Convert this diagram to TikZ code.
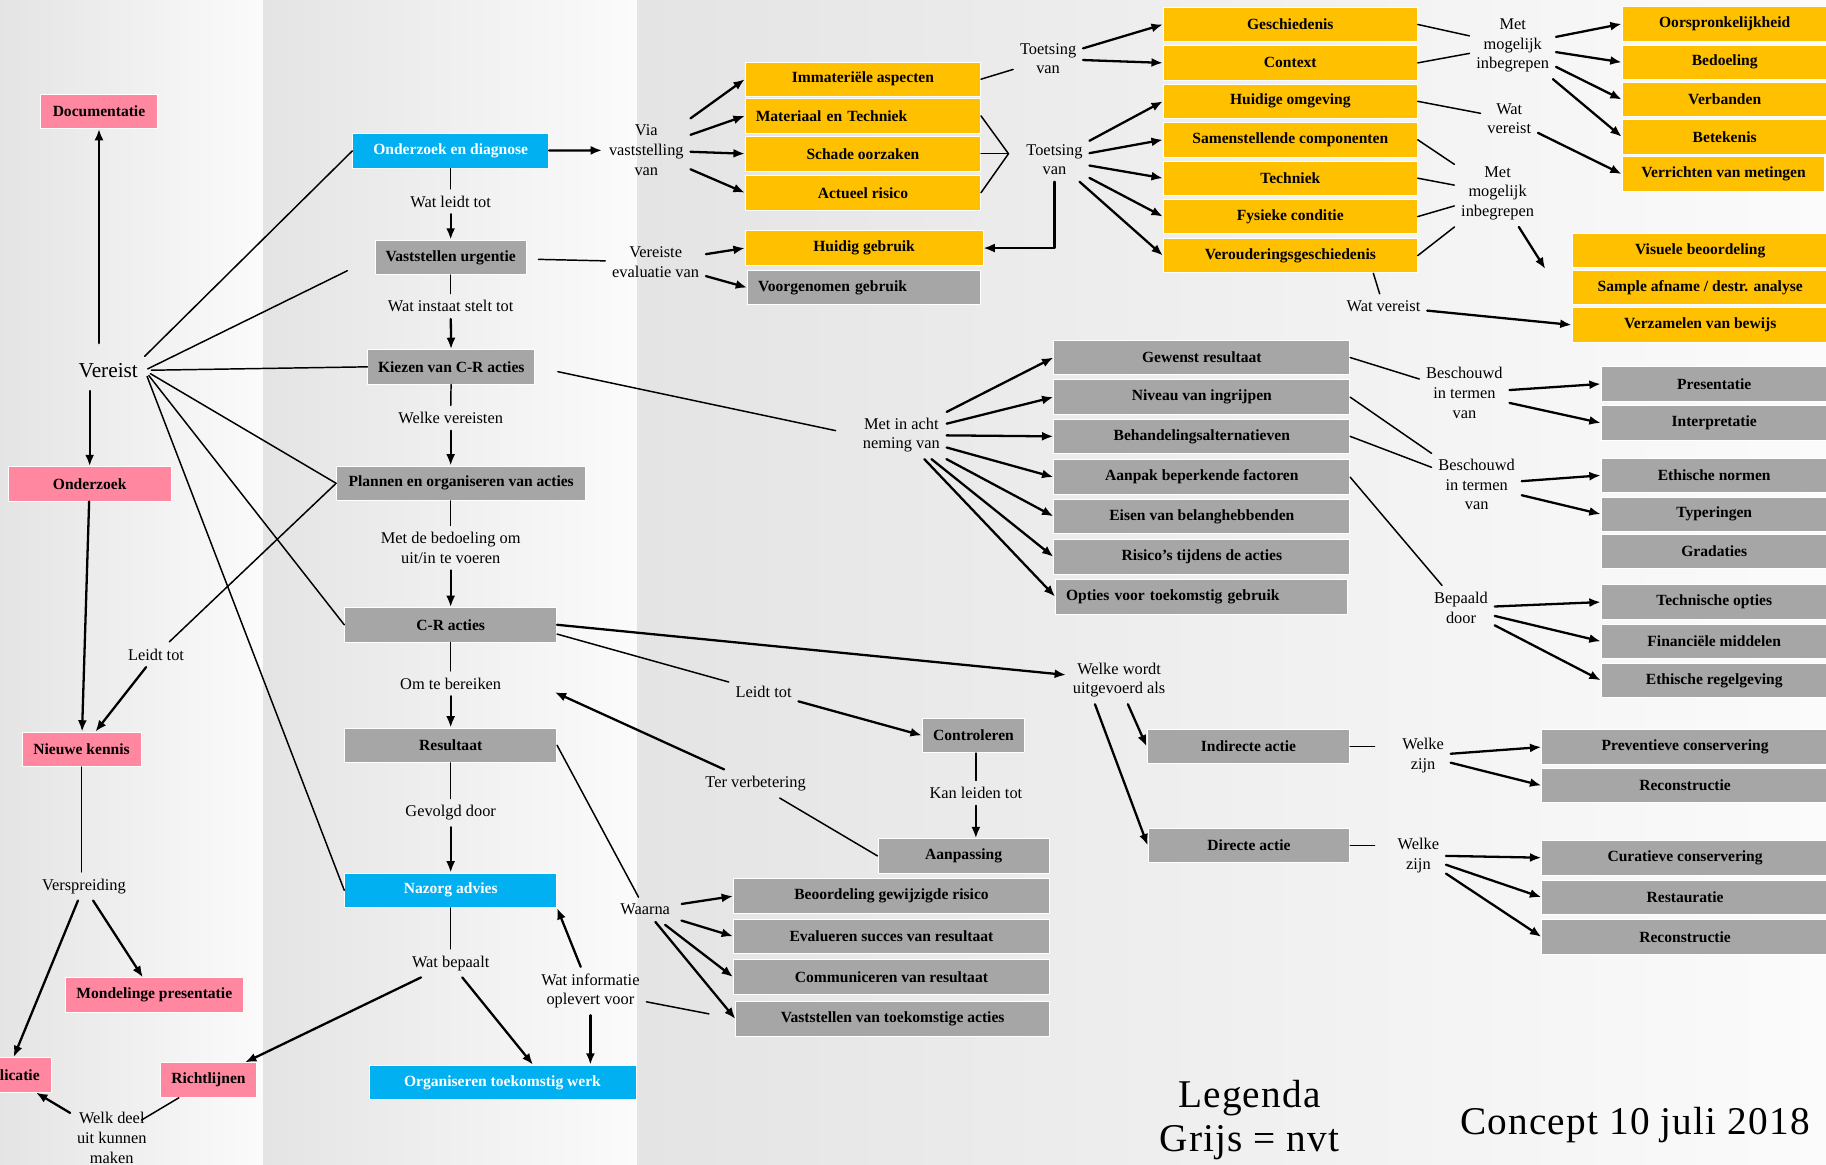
\documentclass[tikz,border=0pt]{standalone}
\usepackage{fontspec}
\setmainfont{Liberation Serif}
\newfontfamily\spaced[LetterSpace=3]{Liberation Serif}
\usetikzlibrary{arrows.meta}
\definecolor{roze}{HTML}{FF87A0}
\definecolor{blauw}{HTML}{00B0F0}
\definecolor{geel}{HTML}{FFC000}
\definecolor{grijs}{HTML}{A6A6A6}
\definecolor{bgdark}{HTML}{E4E4E4}
\definecolor{bglight}{HTML}{FBFBFB}
\begin{document}
\begin{tikzpicture}[x=0.025cm,y=-0.025cm,>={Latex[length=7pt,width=5.5pt]},line join=round,line cap=round,
	box/.style={minimum height=0.74cm,inner sep=1pt,draw=white,line width=0.5pt,font=\fontsize{9.5}{11}\selectfont\bfseries},
	pinkbox/.style={box,fill=roze},
	bluebox/.style={box,fill=blauw,text=white},
	yelbox/.style={box,fill=geel},
	greybox/.style={box,fill=grijs},
	leftbox/.style={align=left,inner xsep=0.225cm,text width=#1},
	lbl/.style={align=center,inner sep=4pt,font=\fontsize{10}{12}\selectfont},
	ln/.style={line width=0.9pt},
	arr/.style={->,line width=1.4pt}]
		\useasboundingbox (0,0) rectangle (1568,1000);
		\clip (0,0) rectangle (1568,1000);
		\shade[left color=bgdark,right color=bglight] (0,0) rectangle (226,1000);
		\shade[left color=bgdark,right color=bglight] (226,0) rectangle (547,1000);
		\shade[left color=bgdark,right color=bglight] (547,0) rectangle (1568,1000);
		% left column
		\node[pinkbox,minimum width=2.5cm] (doc) at (85,95.5) {Documentatie};
		\node[pinkbox,minimum width=3.5cm] (onderzoek) at (77,415.5) {Onderzoek};
		\node[pinkbox,minimum width=2.55cm] (kennis) at (70,643.5) {Nieuwe kennis};
		\node[pinkbox,minimum width=3.83cm] (mondeling) at (132.5,854.5) {Mondelinge presentatie};
		\node[pinkbox,minimum width=1.93cm] (publicatie) at (5.5,923) {Publicatie};
		\node[pinkbox,minimum width=2.05cm] (richtlijn) at (179,927.5) {Richtlijnen};
		\node[lbl,font=\fontsize{13}{15}\selectfont] (vereist) at (93,318) {Vereist};
		\node[lbl] (leidt) at (134,562) {Leidt tot};
		\node[lbl] (verspreiding) at (72,761) {Verspreiding};
		\node[lbl] (welkdeel) at (96,977) {Welk deel\\uit kunnen\\maken};
		% middle column
		\node[bluebox,minimum width=4.2cm] (diagnose) at (387,129.5) {Onderzoek en diagnose};
		\node[greybox,minimum width=3.25cm] (urgentie) at (387,221) {Vaststellen urgentie};
		\node[greybox,minimum width=3.58cm] (kiezen) at (387.5,315) {Kiezen van C-R acties};
		\node[greybox,minimum width=5.35cm] (plannen) at (396,415) {Plannen en organiseren van acties};
		\node[greybox,minimum width=4.55cm] (acties) at (387,536.5) {C-R acties};
		\node[greybox,minimum width=4.55cm] (resultaat) at (387,640) {Resultaat};
		\node[bluebox,minimum width=4.55cm] (nazorg) at (387,764.5) {Nazorg advies};
		\node[bluebox,minimum width=5.73cm] (toekomst) at (431.5,929.5) {Organiseren toekomstig werk};
		\node[lbl] (m1) at (387,173) {Wat leidt tot};
		\node[lbl] (m2) at (387,263) {Wat instaat stelt tot};
		\node[lbl] (m3) at (387,359) {Welke vereisten};
		\node[lbl] (m4) at (387,470.5) {Met de bedoeling om\\uit/in te voeren};
		\node[lbl] (m5) at (387,587) {Om te bereiken};
		\node[lbl] (m6) at (387,698) {Gevolgd door};
		\node[lbl] (m7) at (387,827) {Wat bepaalt};
		\node[lbl] (info) at (507,851) {Wat informatie\\oplevert voor};
		% top block
		\node[lbl] (via) at (555,129) {Via\\vaststelling\\van};
		\node[lbl] (evaluatie) at (563,225) {Vereiste\\evaluatie van};
		\node[yelbox,minimum width=5.05cm] (immaterieel) at (741,68) {Immateriële aspecten};
		\node[yelbox,leftbox=4.6cm] (materiaal) at (741,99.5) {Materiaal en Techniek};
		\node[yelbox,minimum width=5.05cm] (schade) at (741,132) {Schade oorzaken};
		\node[yelbox,minimum width=5.05cm] (risico) at (741,165.5) {Actueel risico};
		\node[yelbox,minimum width=5.1cm] (huidig) at (742,213) {Huidig gebruik};
		\node[greybox,leftbox=4.55cm] (voorgenomen) at (742,247) {Voorgenomen gebruik};
		\node[lbl] (toets1) at (900,50.5) {Toetsing\\van};
		\node[lbl] (toets2) at (905.5,137) {Toetsing\\van};
		\coordinate (punt) at (866,132);
		\node[yelbox,minimum width=5.45cm] (geschiedenis) at (1108,21) {Geschiedenis};
		\node[yelbox,minimum width=5.45cm] (context) at (1108,54) {Context};
		\node[yelbox,minimum width=5.45cm] (omgeving) at (1108,87) {Huidige omgeving};
		\node[yelbox,minimum width=5.45cm] (componenten) at (1108,120) {Samenstellende componenten};
		\node[yelbox,minimum width=5.45cm] (techniek) at (1108,153) {Techniek};
		\node[yelbox,minimum width=5.45cm] (conditie) at (1108,186) {Fysieke conditie};
		\node[yelbox,minimum width=5.45cm] (veroudering) at (1108,219.5) {Verouderingsgeschiedenis};
		\node[lbl] (met1) at (1299,39) {Met\\mogelijk\\inbegrepen};
		\node[lbl] (wat1) at (1296,102) {Wat\\vereist};
		\node[lbl] (met2) at (1286,166) {Met\\mogelijk\\inbegrepen};
		\node[lbl] (wat2) at (1188,263) {Wat vereist};
		\coordinate (pijlpunt) at (1327,231);
		\node[yelbox,minimum width=4.4cm] (oorspronkelijk) at (1481,20.5) {Oorspronkelijkheid};
		\node[yelbox,minimum width=4.4cm] (bedoeling) at (1481,53.5) {Bedoeling};
		\node[yelbox,minimum width=4.4cm] (verbanden) at (1481,85.5) {Verbanden};
		\node[yelbox,minimum width=4.4cm] (betekenis) at (1481,117.5) {Betekenis};
		\node[yelbox,minimum width=4.35cm] (metingen) at (1480,149.5) {Verrichten van metingen};
		\node[yelbox,minimum width=5.5cm] (visueel) at (1460,215) {Visuele beoordeling};
		\node[yelbox,minimum width=5.5cm] (sample) at (1460,247) {Sample afname / destr. analyse};
		\node[yelbox,minimum width=5.5cm] (bewijs) at (1460,279) {Verzamelen van bewijs};
		% considerations
		\node[lbl] (acht) at (774,373.5) {Met in acht\\neming van};
		\node[greybox,minimum width=6.35cm] (gewenst) at (1032,307) {Gewenst resultaat};
		\node[greybox,minimum width=6.35cm] (niveau) at (1032,341) {Niveau van ingrijpen};
		\node[greybox,minimum width=6.35cm] (alternatief) at (1032,374.7) {Behandelingsalternatieven};
		\node[greybox,minimum width=6.35cm] (aanpak) at (1032,409.7) {Aanpak beperkende factoren};
		\node[greybox,minimum width=6.35cm] (eisen) at (1032,443.4) {Eisen van belanghebbenden};
		\node[greybox,minimum width=6.35cm] (risicos) at (1032,478.2) {Risico’s tijdens de acties};
		\node[greybox,leftbox=5.81cm] (opties) at (1031.7,512.4) {Opties voor toekomstig gebruik};
		\node[lbl] (besch1) at (1257.5,337.5) {Beschouwd\\in termen\\van};
		\node[lbl] (besch2) at (1268,416) {Beschouwd\\in termen\\van};
		\node[lbl] (bepaald) at (1254.6,522) {Bepaald\\door};
		\node[greybox,minimum width=4.85cm] (presentatie) at (1472,329.7) {Presentatie};
		\node[greybox,minimum width=4.85cm] (interpretatie) at (1472,363.2) {Interpretatie};
		\node[greybox,minimum width=4.85cm] (normen) at (1472,408.2) {Ethische normen};
		\node[greybox,minimum width=4.85cm] (typeringen) at (1472,441.5) {Typeringen};
		\node[greybox,minimum width=4.85cm] (gradaties) at (1472,473.7) {Gradaties};
		\node[greybox,minimum width=4.85cm] (technisch) at (1472,517) {Technische opties};
		\node[greybox,minimum width=4.85cm] (financieel) at (1472,550.7) {Financiële middelen};
		\node[greybox,minimum width=4.85cm] (regelgeving) at (1472,584.2) {Ethische regelgeving};
		% bottom block
		\node[lbl] (leidt2) at (655.7,594) {Leidt tot};
		\node[greybox,minimum width=2.2cm] (controle) at (836,631.5) {Controleren};
		\node[lbl] (kan) at (838,681) {Kan leiden tot};
		\node[greybox,minimum width=3.68cm] (aanpassing) at (827.5,735) {Aanpassing};
		\node[lbl] (verbetering) at (648.8,673) {Ter verbetering};
		\node[lbl] (waarna) at (554,781) {Waarna};
		\node[greybox,minimum width=6.78cm] (beoordeling) at (765.5,769.5) {Beoordeling gewijzigde risico};
		\node[greybox,minimum width=6.78cm] (evalueren) at (765.5,804) {Evalueren succes van resultaat};
		\node[greybox,minimum width=6.78cm] (communiceren) at (765.5,839) {Communiceren van resultaat};
		\node[greybox,minimum width=6.73cm] (vaststellen) at (766.5,875) {Vaststellen van toekomstige acties};
		\node[lbl] (uitgevoerd) at (961,584) {Welke wordt\\uitgevoerd als};
		\node[greybox,minimum width=4.35cm] (indirect) at (1072,641) {Indirecte actie};
		\node[greybox,minimum width=4.33cm] (direct) at (1072.5,726) {Directe actie};
		\node[lbl] (zijn1) at (1222,649) {Welke\\zijn};
		\node[lbl] (zijn2) at (1218,734.5) {Welke\\zijn};
		\node[greybox,minimum width=6.15cm] (preventief) at (1447,641.5) {Preventieve conservering};
		\node[greybox,minimum width=6.15cm] (reconstructie1) at (1447,674.5) {Reconstructie};
		\node[greybox,minimum width=6.15cm] (curatief) at (1447,736.5) {Curatieve conservering};
		\node[greybox,minimum width=6.15cm] (restauratie) at (1447,770.5) {Restauratie};
		\node[greybox,minimum width=6.15cm] (reconstructie2) at (1447,804.5) {Reconstructie};
		\node[align=center,font=\spaced\fontsize{24}{27}\selectfont] (legenda) at (1073,962) {Legenda\\Grijs = nvt};
		\node[font=\spaced\fontsize{24}{27}\selectfont] (concept) at (1404,966) {Concept 10 juli 2018};
		% connectors left
		\draw[arr,shorten <=8pt] (doc |- vereist.north) -- (doc.south);
		\draw[arr,shorten <=4pt] (onderzoek |- vereist.south) -- (onderzoek.north);
		\draw[arr] (onderzoek) -- (kennis);
		\draw[ln] (plannen.west) -- (leidt);
		\draw[arr] (leidt) -- (kennis);
		\draw[ln] (kennis) -- (kennis |- verspreiding.north);
		\draw[arr] (verspreiding) -- (publicatie);
		\draw[arr] (verspreiding) -- (mondeling);
		\draw[ln,shorten >=-0.3cm] (richtlijn) -- (welkdeel);
		\draw[arr] (welkdeel) -- (publicatie);
		\draw[ln] (vereist.north east) -- (diagnose.west);
		\draw[ln,shorten <=2pt,shorten >=0.65cm] (vereist.east) -- (urgentie.west);
		\draw[ln,shorten <=4pt] (vereist.east) -- (kiezen.west);
		\draw[ln,shorten <=4pt] (vereist.east) -- (plannen.west);
		\draw[ln,shorten <=4pt] (vereist.east) -- (acties.west);
		\draw[ln,shorten <=4pt] (vereist.east) -- (nazorg.west);
		% connectors middle
		\draw[ln] (diagnose) -- (m1);
		\draw[arr] (m1) -- (urgentie);
		\draw[ln] (urgentie) -- (m2);
		\draw[arr] (m2) -- (kiezen);
		\draw[ln] (kiezen) -- (m3);
		\draw[arr] (m3) -- (m3 |- plannen.north);
		\draw[ln] (plannen.south -| m4) -- (m4);
		\draw[arr] (m4) -- (acties);
		\draw[ln] (acties) -- (m5);
		\draw[arr] (m5) -- (resultaat);
		\draw[ln] (resultaat) -- (m6);
		\draw[arr] (m6) -- (nazorg);
		\draw[ln] (nazorg) -- (m7);
		\draw[arr] (m7) -- (richtlijn);
		\draw[arr] (m7) -- (toekomst.30);
		\draw[arr] (info) -- (nazorg.south east);
		\draw[arr] (info) -- (info |- toekomst.north);
		\draw[ln,shorten >=0.58cm] (info) -- (vaststellen.west);
		% connectors top
		\draw[arr] (diagnose) -- (via);
		\draw[arr] (via) -- (immaterieel.west);
		\draw[arr] (via) -- (materiaal.west);
		\draw[arr] (via) -- (schade.west);
		\draw[arr] (via) -- (risico.west);
		\draw[ln,shorten <=0.25cm] (urgentie) -- (evaluatie);
		\draw[arr] (evaluatie) -- (huidig.west);
		\draw[arr] (evaluatie) -- (voorgenomen.west);
		\draw[ln] (immaterieel.east) -- (toets1);
		\draw[ln] (materiaal.east) -- (punt) -- (risico.east);
		\draw[ln] (schade.east) -- (punt);
		\draw[arr] (toets2.south) -- (toets2.south |- huidig.east) -- (huidig.east);
		\draw[arr] (toets1) -- (geschiedenis.west);
		\draw[arr] (toets1) -- (context.west);
		\draw[arr] (toets2) -- (omgeving.west);
		\draw[arr] (toets2) -- (componenten.west);
		\draw[arr] (toets2) -- (techniek.west);
		\draw[arr] (toets2) -- (conditie.west);
		\draw[arr] (toets2) -- (veroudering.west);
		\draw[ln] (geschiedenis.east) -- (met1);
		\draw[ln] (context.east) -- (met1);
		\draw[ln] (omgeving.east) -- (wat1);
		\draw[ln] (componenten.east) -- (met2);
		\draw[ln] (techniek.east) -- (met2);
		\draw[ln] (conditie.east) -- (met2);
		\draw[ln] (veroudering.east) -- (met2);
		\draw[ln] (veroudering.-12) -- (wat2);
		\draw[arr] (met1) -- (oorspronkelijk.west);
		\draw[arr] (met1) -- (bedoeling.west);
		\draw[arr] (met1) -- (verbanden.west);
		\draw[arr] (met1) -- (betekenis.west);
		\draw[arr] (wat1) -- (metingen.west);
		\draw[arr] (met2) -- (pijlpunt);
		\draw[arr] (wat2) -- (bewijs.west);
		% connectors considerations
		\draw[ln,shorten <=0.5cm,shorten >=0.45cm] (kiezen.east) -- (acht.west);
		\draw[arr] (acht) -- (gewenst.west);
		\draw[arr] (acht) -- (niveau.west);
		\draw[arr] (acht) -- (alternatief.west);
		\draw[arr] (acht) -- (aanpak.west);
		\draw[arr] (acht) -- (eisen.west);
		\draw[arr] (acht) -- (risicos.west);
		\draw[arr] (acht) -- (opties.west);
		\draw[ln] (gewenst.east) -- (besch1);
		\draw[ln] (niveau.east) -- (besch2);
		\draw[ln] (alternatief.east) -- (besch2);
		\draw[ln] (aanpak.east) -- (bepaald);
		\draw[arr] (besch1) -- (presentatie.west);
		\draw[arr] (besch1) -- (interpretatie.west);
		\draw[arr] (besch2) -- (normen.west);
		\draw[arr] (besch2) -- (typeringen.west);
		\draw[arr] (bepaald) -- (technisch.west);
		\draw[arr] (bepaald) -- (financieel.west);
		\draw[arr] (bepaald) -- (regelgeving.west);
		% connectors bottom
		\draw[arr] (acties.east) -- (uitgevoerd);
		\draw[ln] (acties.-5) -- (leidt2);
		\draw[arr] (leidt2) -- (controle.west);
		\draw[ln] (controle.south -| kan) -- (kan);
		\draw[arr] (kan) -- (kan |- aanpassing.north);
		\draw[ln] (aanpassing.west) -- (verbetering);
		\draw[arr,shorten >=1.1cm] (verbetering) -- (m5.north east);
		\draw[ln] (resultaat.east) -- (waarna);
		\draw[arr,shorten <=3pt] (waarna) -- (beoordeling.west);
		\draw[arr,shorten <=3pt] (waarna) -- (evalueren.west);
		\draw[arr,shorten <=3pt] (waarna) -- (communiceren.west);
		\draw[arr] (waarna) -- (vaststellen.west);
		\draw[arr] (uitgevoerd.-70) -- (indirect.west);
		\draw[arr] (uitgevoerd.-135) -- (direct.west);
		\draw[ln,shorten >=0.45cm] (indirect.east) -- (zijn1.west |- indirect.east);
		\draw[ln,shorten >=0.35cm] (direct.east) -- (zijn2.west |- direct.east);
		\draw[arr] (zijn1) -- (preventief.west);
		\draw[arr] (zijn1) -- (reconstructie1.west);
		\draw[arr] (zijn2) -- (curatief.west);
		\draw[arr] (zijn2) -- (restauratie.west);
		\draw[arr] (zijn2) -- (reconstructie2.west);
\end{tikzpicture}
\end{document}
